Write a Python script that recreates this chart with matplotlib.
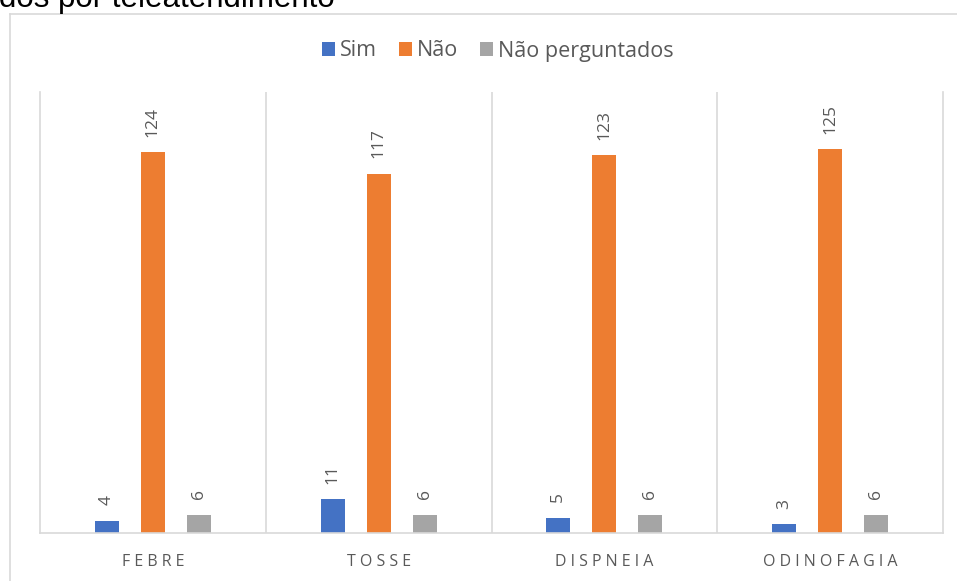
import matplotlib.pyplot as plt
import numpy as np

# Sintomas registrados nos atendimentos
categorias = ["FEBRE", "TOSSE", "DISPNEIA", "ODINOFAGIA"]
series = ["Sim", "Não", "Não perguntados"]
sim = [4, 11, 5, 3]
nao = [124, 117, 123, 125]
nao_perguntados = [6, 6, 6, 6]

cores = ["#4472C4", "#ED7D31", "#A5A5A5"]
cinza_texto = "#595959"
cinza_linha = "#D9D9D9"

plt.rcParams["font.family"] = ["Open Sans", "DejaVu Sans"]

fig = plt.figure(figsize=(9.57, 5.81), dpi=100)
W, H = 957, 581

# moldura do grafico (so aparecem topo e lado esquerdo)
fig.add_artist(plt.Line2D([9.5 / W, 1.0], [1 - 13.5 / H, 1 - 13.5 / H],
                          color=cinza_linha, lw=1.2, transform=fig.transFigure))
fig.add_artist(plt.Line2D([9.5 / W, 9.5 / W], [0, 1 - 13.5 / H],
                          color=cinza_linha, lw=1.2, transform=fig.transFigure))

# titulo cortado no topo
fig.text(335 / W, 1 - 7 / H, "Sintomas avaliados por teleatendimento",
         ha="right", va="baseline", fontsize=22.5, color="black",
         family="Liberation Sans")

ax = fig.add_axes([40 / W, 48 / H, 903 / W, 441 / H])

x = np.arange(len(categorias))
largura = 0.106
desloc = 0.204
for i, (nome, valores) in enumerate(zip(series, [sim, nao, nao_perguntados])):
    barras = ax.bar(x + (i - 1) * desloc, valores, largura, color=cores[i], label=nome)
    for b, v in zip(barras, valores):
        ax.annotate(str(v), (b.get_x() + b.get_width() / 2, b.get_height()),
                    xytext=(0, 11), textcoords="offset points",
                    ha="center", va="bottom", rotation=90,
                    fontsize=12.5, color=cinza_texto)

ax.set_xlim(-0.5, len(categorias) - 0.5)
ax.set_ylim(0, 143.6)
ax.set_yticks([])
ax.set_xticks(x)
ax.set_xticklabels([" ".join(c) for c in categorias], fontsize=11.5, color=cinza_texto)
ax.tick_params(axis="x", length=0, pad=15)

for s in ["left", "right", "bottom"]:
    ax.spines[s].set_color(cinza_linha)
    ax.spines[s].set_linewidth(1.2)
ax.spines["top"].set_visible(False)
for xv in x[:-1] + 0.5:
    ax.axvline(xv, color=cinza_linha, lw=1.2)

leg = fig.legend(loc="center", bbox_to_anchor=(498 / W, 1 - 51 / H), ncol=3,
                 frameon=False, fontsize=15.5, handlelength=0.6, handleheight=0.6,
                 handletextpad=0.25, columnspacing=1.0)
for t in leg.get_texts():
    t.set_color(cinza_texto)

fig.savefig("out.png", dpi=100)
